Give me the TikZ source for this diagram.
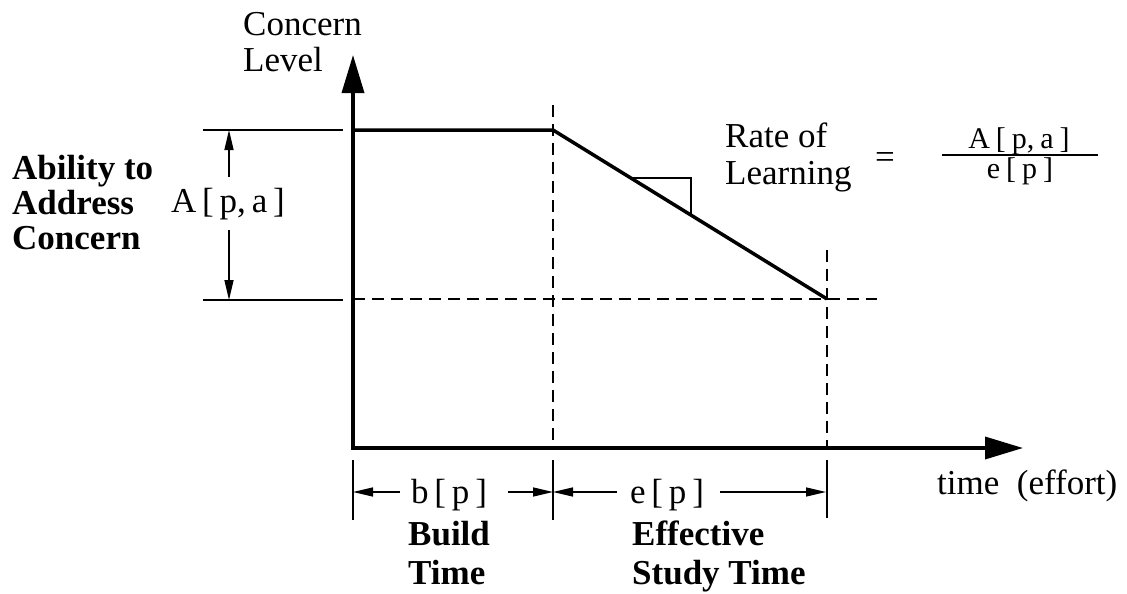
\documentclass[tikz,border=0pt]{standalone}
\usepackage{fontspec}
\setmainfont{Liberation Serif}
\usetikzlibrary{arrows.meta}
\newcommand{\gp}{\hspace{0.2em}}
\begin{document}
\begin{tikzpicture}[x=1pt,y=-1pt,
  axis/.style={line width=3.5pt, line join=miter, {Triangle[length=38pt,width=22pt]}-{Triangle[length=38pt,width=22pt]}},
  thickline/.style={line width=3.5pt, line join=miter},
  thinline/.style={line width=1.4pt},
  dashline/.style={line width=1.4pt, dash pattern=on 12pt off 7pt},
  dimarrow/.style={line width=1.4pt, -{Triangle[length=20pt,width=9pt]}},
  lbl/.style={font=\fontsize{35}{36}\selectfont, inner sep=0pt, align=left},
  fraclbl/.style={font=\fontsize{30}{30}\selectfont, inner sep=0pt},
  blbl/.style={font=\fontsize{35}{39}\selectfont\bfseries, inner sep=0pt, align=left},
]
\useasboundingbox[fill=white] (0,0) rectangle (1127,594);
% key points
\coordinate (O) at (353,448);
\coordinate (Ytip) at (353,55);
\coordinate (Xtip) at (1023,448);
\coordinate (T0) at (353,130);
\coordinate (T1) at (553,130);
\coordinate (T2) at (827,299);
\coordinate (L0) at (203,130);
\coordinate (L1) at (343,130);
\coordinate (M0) at (203,300);
\coordinate (M1) at (343,300);
\coordinate (D0) at (353,299);
\coordinate (D1) at (877,299);
\coordinate (V1a) at (553,105);
\coordinate (V1b) at (553,448);
\coordinate (V2a) at (827,250);
\coordinate (V2b) at (827,448);
\coordinate (K0a) at (353,460);
\coordinate (K0b) at (353,520);
\coordinate (K1a) at (553,460);
\coordinate (K1b) at (553,520);
\coordinate (K2a) at (827,460);
\coordinate (K2b) at (827,518);
\coordinate (Aup0) at (229,177);
\coordinate (Aup1) at (229,130);
\coordinate (Adn0) at (229,230);
\coordinate (Adn1) at (229,300);
\coordinate (B0) at (400,492);
\coordinate (B1) at (353,492);
\coordinate (B2) at (508,492);
\coordinate (B3) at (553,492);
\coordinate (E0) at (617,492);
\coordinate (E1) at (553,492);
\coordinate (E2) at (720,492);
\coordinate (E3) at (826,492);
\coordinate (R0) at (633,178);
\coordinate (R1) at (691,178);
\coordinate (R2) at (691,214);
\coordinate (F0) at (942,155);
\coordinate (F1) at (1098,155);

% dashed guides
\draw[dashline] (D0) -- (D1);
\draw[dashline] (V1a) -- (V1b);
\draw[dashline] (V2a) -- (V2b);
% thin reference lines
\draw[thinline] (L0) -- (L1);
\draw[thinline] (M0) -- (M1);
% axes
\draw[axis] (Ytip) -- (O) -- (Xtip);
% curve
\draw[thickline] (T0) -- (T1) -- (T2);
% slope triangle
\draw[thinline] (R0) -- (R1) -- (R2);
% ticks
\draw[thinline] (K0a) -- (K0b);
\draw[thinline] (K1a) -- (K1b);
\draw[thinline] (K2a) -- (K2b);
% dimension arrows
\draw[dimarrow] (Aup0) -- (Aup1);
\draw[dimarrow] (Adn0) -- (Adn1);
\draw[dimarrow] (B0) -- (B1);
\draw[dimarrow] (B2) -- (B3);
\draw[dimarrow] (E0) -- (E1);
\draw[dimarrow] (E2) -- (E3);
% fraction bar
\draw[thinline] (F0) -- (F1);

% labels
\node[lbl, anchor=north west] (cl) at (243,12) {Concern\\Level};
\node[blbl, anchor=north west, font=\fontsize{35}{35}\selectfont\bfseries] (ab) at (12,155) {Ability to\\Address\\Concern};
\node[lbl, anchor=base] (apa) at (228,212) {A\,[\,p,\,a\,]};
\node[lbl, anchor=north west, font=\fontsize{35}{37}\selectfont] (rl) at (725,123) {Rate of\\Learning};
\node[lbl, anchor=center] (eq) at (885,161) {=};
\node[fraclbl, anchor=base] (num) at (1019,148) {A\gp[\gp p,\gp a\gp]};
\node[fraclbl, anchor=base] (den) at (1020,178) {e\gp[\gp p\gp]};
\node[lbl, anchor=base] (bp) at (449,503) {b\,[\,p\,]};
\node[lbl, anchor=base] (ep) at (667,503) {e\,[\,p\,]};
\node[lbl, anchor=base west] (te) at (937,494) {time\hspace{0.5em}(effort)};
\node[blbl, anchor=north west] (bt) at (408,521) {Build\\Time};
\node[blbl, anchor=north west] (est) at (632,521) {Effective\\Study Time};
\end{tikzpicture}
\end{document}
